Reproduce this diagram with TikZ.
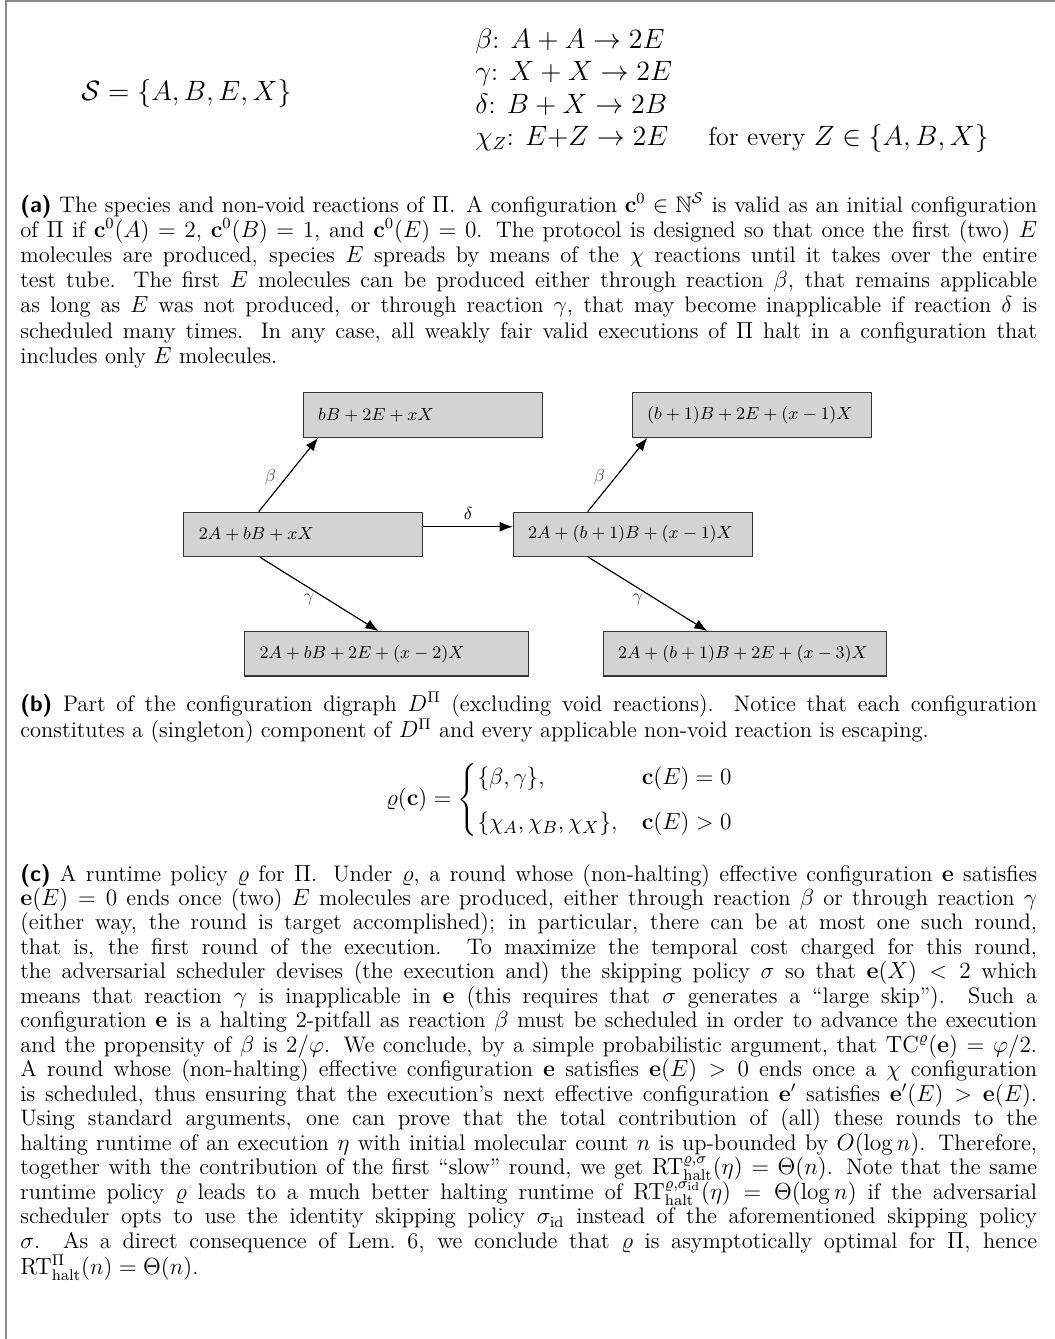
\documentclass[tikz,border=0pt]{standalone}
\usepackage{amsmath,amssymb,amsfonts}
\usepackage{xcolor}
\usetikzlibrary{arrows.meta,calc}
\definecolor{cfgFill}{HTML}{D3D3D3}
\definecolor{cfgLine}{HTML}{333333}
\definecolor{frameGray}{HTML}{8A8A8A}

\begin{document}
\begin{tikzpicture}[x=0.515pt,y=-0.515pt,
  cfg/.style={draw=cfgLine,fill=cfgFill,line width=0.6pt,anchor=north west,inner xsep=7.7pt,inner ysep=0pt,minimum height=22.9pt,align=left,font=\fontsize{9.4}{11}\selectfont},
  edge/.style={line width=0.6pt,-{Latex[length=6.7pt,width=5.2pt]}},
  lbl/.style={font=\fontsize{9.4}{11}\selectfont,text=black!70},
  capt/.style={anchor=base west,inner sep=0pt,text width=523.6pt,align=justify,font=\fontsize{11.6}{12.6}\selectfont},
  big/.style={font=\fontsize{13.3}{16}\selectfont,inner sep=0pt}]
\useasboundingbox (0,0) rectangle (1055,1339);
\draw[frameGray,line width=0.8pt] (6,1339) -- (6,1) -- (1055,1);
% species and reactions
\node[big,anchor=base] (species) at (186.5,100) {$\mathcal{S}=\{A,B,E,X\}$};
\node[big,anchor=base west] (rbeta) at (475,48) {$\beta$: $A+A\to 2E$};
\node[big,anchor=base west] (rgamma) at (475,80.5) {$\gamma$: $X+X\to 2E$};
\node[big,anchor=base west] (rdelta) at (475,113) {$\delta$: $B+X\to 2B$};
\node[big,anchor=base west] (rchi) at (475,145.5) {$\chi_Z$: $E{+}Z\to 2E$};
\node[big,anchor=base west] (rchiZ) at (708,145.5) {for every $Z\in\{A,B,X\}$};
\node[capt,font=\fontsize{11.6}{13}\selectfont] (capA) at (20,212) {\textsf{\textbf{(a)}} The species and non-void reactions of $\Pi$. A configuration $\mathbf{c}^0\in\mathbb{N}^{\mathcal{S}}$ is valid as an initial configuration\linebreak
of $\Pi$ if $\mathbf{c}^0(A)=2$, $\mathbf{c}^0(B)=1$, and $\mathbf{c}^0(E)=0$. The protocol is designed so that once the first (two) $E$\linebreak
molecules are produced, species $E$ spreads by means of the $\chi$ reactions until it takes over the entire\linebreak
test tube. The first $E$ molecules can be produced either through reaction $\beta$, that remains applicable\linebreak
as long as $E$ was not produced, or through reaction $\gamma$, that may become inapplicable if reaction $\delta$ is\linebreak
scheduled many times. In any case, all weakly fair valid executions of $\Pi$ halt in a configuration that\linebreak
includes only $E$ molecules.};
% configuration digraph
\node[cfg,text width=107.7pt] (top1) at (302.7,392.3) {\mbox{$bB+2E+xX$}};
\node[cfg,text width=107.7pt] (top2) at (631.7,392.3) {\mbox{$(b+1)B+2E+(x-1)X$}};
\node[cfg,text width=107.7pt] (mid1) at (183.3,511.7) {\mbox{$2A+bB+xX$}};
\node[cfg,text width=107.7pt] (mid2) at (512.7,511.7) {\mbox{$2A+(b+1)B+(x-1)X$}};
\node[cfg,text width=130.6pt] (bot1) at (244,631) {\mbox{$2A+bB+2E+(x-2)X$}};
\node[cfg,text width=130.6pt] (bot2) at (602.5,631) {\mbox{$2A+(b+1)B+2E+(x-3)X$}};
\draw[edge] ($(mid1.north west)!0.314!(mid1.north east)$) -- node[lbl,midway,shift={(-18,2.5)}] {$\beta$} ($(top1.south west)!0.064!(top1.south east)$);
\draw[edge] ($(mid2.north west)!0.312!(mid2.north east)$) -- node[lbl,midway,shift={(-18,2.5)}] {$\beta$} ($(top2.south west)!0.065!(top2.south east)$);
\draw[edge] ($(mid1.south west)!0.32!(mid1.south east)$) -- node[lbl,midway,shift={(-10.4,5.5)}] {$\gamma$} ($(bot1.north west)!0.472!(bot1.north east)$);
\draw[edge] ($(mid2.south west)!0.316!(mid2.south east)$) -- node[lbl,midway,shift={(-10.4,5.5)}] {$\gamma$} ($(bot2.north west)!0.368!(bot2.north east)$);
\draw[edge] ([yshift=4pt]mid1.east) -- node[above,font=\fontsize{9.4}{11}\selectfont] {$\delta$} ([yshift=4pt]mid2.west);
\node[capt] (capB) at (20,711) {\textsf{\textbf{(b)}} Part of the configuration digraph $D^{\Pi}$ (excluding void reactions). Notice that each configuration\linebreak
constitutes a (singleton) component of $D^{\Pi}$ and every applicable non-void reaction is escaping.};
% runtime policy
\node[font=\fontsize{12.5}{15}\selectfont] (policy) at (560,800) {$\varrho(\mathbf{c})=\begin{cases}\{\beta,\gamma\}, & \mathbf{c}(E)=0\\[5pt] \{\chi_A,\chi_B,\chi_X\}, & \mathbf{c}(E)>0\end{cases}$};
\node[capt] (capC) at (20,881) {\textsf{\textbf{(c)}} A runtime policy $\varrho$ for $\Pi$. Under $\varrho$, a round whose (non-halting) effective configuration $\mathbf{e}$ satisfies\linebreak
$\mathbf{e}(E)=0$ ends once (two) $E$ molecules are produced, either through reaction $\beta$ or through reaction $\gamma$\linebreak
(either way, the round is target accomplished); in particular, there can be at most one such round,\linebreak
that is, the first round of the execution. To maximize the temporal cost charged for this round,\linebreak
the adversarial scheduler devises (the execution and) the skipping policy $\sigma$ so that $\mathbf{e}(X)<2$ which\linebreak
means that reaction $\gamma$ is inapplicable in $\mathbf{e}$ (this requires that $\sigma$ generates a ``large skip''). Such a\linebreak
configuration $\mathbf{e}$ is a halting 2-pitfall as reaction $\beta$ must be scheduled in order to advance the execution\linebreak
and the propensity of $\beta$ is $2/\varphi$. We conclude, by a simple probabilistic argument, that $\mathrm{TC}^{\varrho}(\mathbf{e})=\varphi/2$.\linebreak
A round whose (non-halting) effective configuration $\mathbf{e}$ satisfies $\mathbf{e}(E)>0$ ends once a $\chi$ configuration\linebreak
is scheduled, thus ensuring that the execution's next effective configuration $\mathbf{e}'$ satisfies $\mathbf{e}'(E)>\mathbf{e}(E)$.\linebreak
Using standard arguments, one can prove that the total contribution of (all) these rounds to the\linebreak
halting runtime of an execution $\eta$ with initial molecular count $n$ is up-bounded by $O(\log n)$. Therefore,\linebreak
together with the contribution of the first ``slow'' round, we get $\mathrm{RT}^{\varrho,\sigma}_{\mathrm{halt}}(\eta)=\Theta(n)$. Note that the same\linebreak
runtime policy $\varrho$ leads to a much better halting runtime of $\mathrm{RT}^{\varrho,\sigma_{\mathrm{id}}}_{\mathrm{halt}}(\eta)=\Theta(\log n)$ if the adversarial\linebreak
scheduler opts to use the identity skipping policy $\sigma_{\mathrm{id}}$ instead of the aforementioned skipping policy\linebreak
$\sigma$. As a direct consequence of Lem.~6, we conclude that $\varrho$ is asymptotically optimal for $\Pi$, hence\linebreak
$\mathrm{RT}^{\Pi}_{\mathrm{halt}}(n)=\Theta(n)$.};
\end{tikzpicture}
\end{document}
